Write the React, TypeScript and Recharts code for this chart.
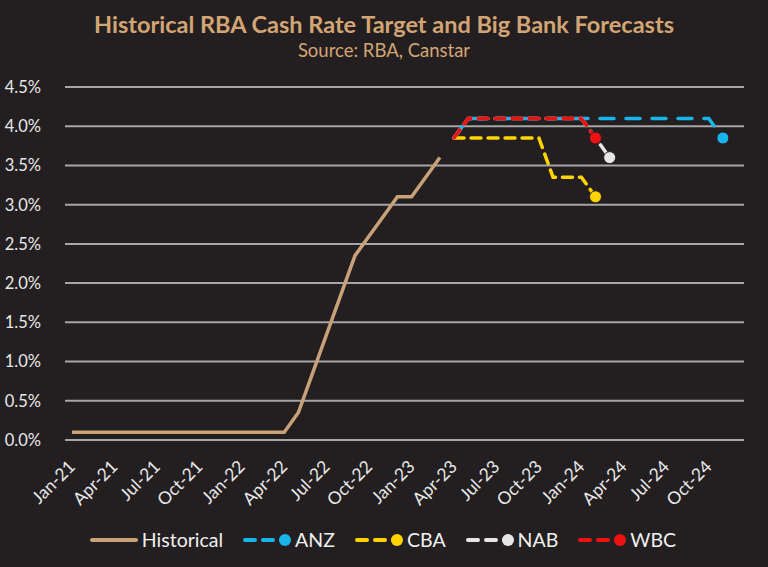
import React from "react";
import {
  LineChart,
  Line,
  XAxis,
  YAxis,
  CartesianGrid,
} from "recharts";

const MONTHS = [
  "Jan-21", "Feb-21", "Mar-21", "Apr-21", "May-21", "Jun-21", "Jul-21", "Aug-21", "Sep-21", "Oct-21", "Nov-21", "Dec-21",
  "Jan-22", "Feb-22", "Mar-22", "Apr-22", "May-22", "Jun-22", "Jul-22", "Aug-22", "Sep-22", "Oct-22", "Nov-22", "Dec-22",
  "Jan-23", "Feb-23", "Mar-23", "Apr-23", "May-23", "Jun-23", "Jul-23", "Aug-23", "Sep-23", "Oct-23", "Nov-23", "Dec-23",
  "Jan-24", "Feb-24", "Mar-24", "Apr-24", "May-24", "Jun-24", "Jul-24", "Aug-24", "Sep-24", "Oct-24", "Nov-24", "Dec-24",
];

// cash rate, Jan-21 .. Mar-23
const HISTORICAL = [
  0.1, 0.1, 0.1, 0.1, 0.1, 0.1, 0.1, 0.1, 0.1, 0.1, 0.1, 0.1,
  0.1, 0.1, 0.1, 0.1, 0.35, 0.85, 1.35, 1.85, 2.35, 2.6, 2.85, 3.1,
  3.1, 3.35, 3.6,
];

// bank forecasts, all starting Apr-23
const FORECAST_START = "Apr-23";
const ANZ = [
  3.85, 4.1, 4.1, 4.1, 4.1, 4.1, 4.1, 4.1, 4.1,
  4.1, 4.1, 4.1, 4.1, 4.1, 4.1, 4.1, 4.1, 4.1, 4.1, 3.85,
];
const CBA = [3.85, 3.85, 3.85, 3.85, 3.85, 3.85, 3.85, 3.35, 3.35, 3.35, 3.1];
const NAB = [3.85, 4.1, 4.1, 4.1, 4.1, 4.1, 4.1, 4.1, 4.1, 4.1, 3.85, 3.6];
const WBC = [3.85, 4.1, 4.1, 4.1, 4.1, 4.1, 4.1, 4.1, 4.1, 4.1, 3.85];

const Y_TICKS = [0, 0.5, 1, 1.5, 2, 2.5, 3, 3.5, 4, 4.5];

const BG = "#231f20";
const TAN = "#d3a574";
const FONT = "Lato, 'Open Sans', sans-serif";

const SERIES = [
  { key: "ANZ", values: ANZ, color: "#18b4ec", dash: "14 12" },
  { key: "CBA", values: CBA, color: "#ffd400", dash: "10 7" },
  { key: "NAB", values: NAB, color: "#e6e6e6", dash: "10 7" },
  { key: "WBC", values: WBC, color: "#ee1111", dash: "10 7" },
];

const startIdx = MONTHS.indexOf(FORECAST_START);

const data = MONTHS.map((month, i) => {
  const row: Record<string, string | number | null> = { month };
  row.Historical = i < HISTORICAL.length ? HISTORICAL[i] : null;
  SERIES.forEach((s) => {
    const j = i - startIdx;
    row[s.key] = j >= 0 && j < s.values.length ? s.values[j] : null;
  });
  return row;
});

function endDot(lastIndex: number, color: string) {
  return (props: any) => {
    const { cx, cy, index } = props;
    if (index !== lastIndex || cy == null) return <g key={`d-${index}`} />;
    return <circle key={`d-${index}`} cx={cx} cy={cy} r={6} fill={color} stroke={BG} strokeWidth={1} />;
  };
}

function MonthTick(props: any) {
  const { x, y, payload } = props;
  return (
    <g transform={`translate(${x},${y})`}>
      <text
        x={0}
        y={0}
        dx={-11}
        dy={17}
        textAnchor="end"
        transform="rotate(-45)"
        fill="#e8e8e8"
        fontSize={17.5}
        fontFamily={FONT}
      >
        {payload.value}
      </text>
    </g>
  );
}

function LegendItem({ label, color, dash, marker }: { label: string; color: string; dash?: string; marker: boolean }) {
  return (
    <div style={{ display: "flex", alignItems: "center", marginRight: 19 }}>
      <svg width={50} height={14}>
        <line
          x1={3}
          y1={7}
          x2={marker ? 42 : 47}
          y2={7}
          stroke={color}
          strokeWidth={4}
          strokeLinecap="round"
          strokeDasharray={dash}
        />
        {marker && <circle cx={43} cy={7} r={6} fill={color} />}
      </svg>
      <span style={{ color: "#f0f0f0", fontSize: 19.5, fontFamily: FONT, marginLeft: 3 }}>{label}</span>
    </div>
  );
}

export default function App() {
  return (
    <div style={{ position: "fixed", left: 0, top: 0, width: 768, height: 567, background: BG, overflow: "hidden" }}>
      <div
        style={{
          position: "absolute",
          top: 10,
          width: 768,
          textAlign: "center",
          color: TAN,
          fontFamily: FONT,
          fontWeight: 700,
          fontSize: 23.5,
        }}
      >
        Historical RBA Cash Rate Target and Big Bank Forecasts
      </div>
      <div
        style={{
          position: "absolute",
          top: 39,
          width: 768,
          textAlign: "center",
          color: TAN,
          fontFamily: FONT,
          fontSize: 18.5,
        }}
      >
        Source: RBA, Canstar
      </div>
      <div style={{ position: "absolute", left: 0, top: 0 }}>
        <LineChart
          width={768}
          height={520}
          data={data}
          margin={{ top: 87, right: 24, bottom: 0, left: 0 }}
        >
          <CartesianGrid vertical={false} stroke="#a6a6a6" strokeWidth={2} />
          <XAxis
            dataKey="month"
            interval={2}
            tick={<MonthTick />}
            tickLine={false}
            axisLine={false}
            padding={{ left: 7, right: 7 }}
            height={80}
          />
          <YAxis
            domain={[0, 4.5]}
            ticks={Y_TICKS}
            tickFormatter={(v: number) => `${v.toFixed(1)}%`}
            tick={{ fill: "#e8e8e8", fontSize: 16.5, fontFamily: FONT }}
            tickLine={false}
            axisLine={false}
            width={65}
            tickMargin={18}
          />
          <Line
            dataKey="Historical"
            stroke="#c9a179"
            strokeWidth={3.5}
            dot={false}
            isAnimationActive={false}
          />
          {SERIES.map((s) => (
            <Line
              key={s.key}
              dataKey={s.key}
              stroke={s.color}
              strokeWidth={3.5}
              strokeDasharray={s.dash}
              strokeLinecap="round"
              dot={endDot(startIdx + s.values.length - 1, s.color)}
              activeDot={false}
              isAnimationActive={false}
            />
          ))}
        </LineChart>
      </div>
      <div
        style={{
          position: "absolute",
          top: 528,
          left: 0,
          width: 768,
          display: "flex",
          justifyContent: "center",
          paddingLeft: 8,
        }}
      >
        <LegendItem label="Historical" color="#c9a179" marker={false} />
        {SERIES.map((s) => (
          <LegendItem key={s.key} label={s.key} color={s.color} dash="10 8" marker />
        ))}
      </div>
    </div>
  );
}
